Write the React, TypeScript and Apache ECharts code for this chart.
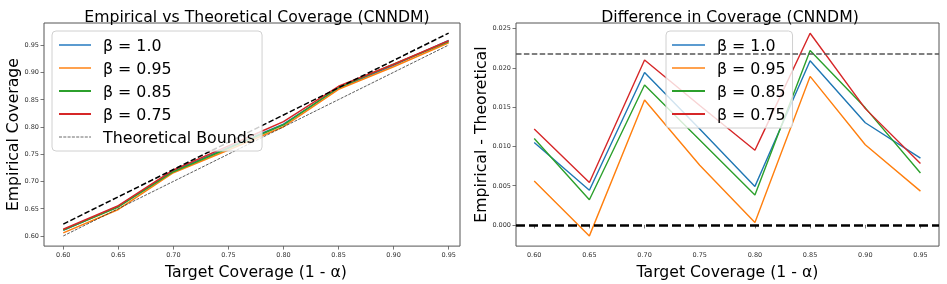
import React, { useEffect, useRef } from "react";
import * as echarts from "echarts";

const targets = [0.6, 0.65, 0.7, 0.75, 0.8, 0.85, 0.9, 0.95];
const betaNames = ["β = 1.0", "β = 0.95", "β = 0.85", "β = 0.75"];
const colors = ["#1f77b4", "#ff7f0e", "#2ca02c", "#d62728"];

const empB100 = [0.6105, 0.6544, 0.7194, 0.7622, 0.8049, 0.8709, 0.913, 0.9585];
const empB095 = [0.6056, 0.6486, 0.7159, 0.7576, 0.8003, 0.8689, 0.9102, 0.9543];
const empB085 = [0.611, 0.6532, 0.7178, 0.7608, 0.8038, 0.8722, 0.9149, 0.9566];
const empB075 = [0.6122, 0.6554, 0.721, 0.7652, 0.8095, 0.8744, 0.9148, 0.9578];

const diffB100 = [0.0105, 0.0044, 0.0194, 0.0122, 0.0049, 0.0209, 0.013, 0.0085];
const diffB095 = [0.0056, -0.0014, 0.0159, 0.0076, 0.0003, 0.0189, 0.0102, 0.0043];
const diffB085 = [0.011, 0.0032, 0.0178, 0.0108, 0.0038, 0.0222, 0.0149, 0.0066];
const diffB075 = [0.0122, 0.0054, 0.021, 0.0152, 0.0095, 0.0244, 0.0148, 0.0078];

const lowerBound = [0.6, 0.65, 0.7, 0.75, 0.8, 0.85, 0.9, 0.95];
const upperBound = [0.6218, 0.6718, 0.7218, 0.7718, 0.8218, 0.8718, 0.9218, 0.9718];
const boundGap = 0.0218;
const zeroLine = 0;

const xTicks = [0.6, 0.65, 0.7, 0.75, 0.8, 0.85, 0.9, 0.95];
const yTicksLeft = [0.6, 0.65, 0.7, 0.75, 0.8, 0.85, 0.9, 0.95];
const yTicksRight = [0, 0.005, 0.01, 0.015, 0.02, 0.025];

const FONT = "DejaVu Sans";

export default function App() {
  const ref = useRef<HTMLDivElement>(null);
  useEffect(() => {
    if (!ref.current) return;
    const chart = echarts.init(ref.current, null, { renderer: "svg" });
    const empAll = [empB100, empB095, empB085, empB075];
    const diffAll = [diffB100, diffB095, diffB085, diffB075];
    const pair = (ys: number[]) => targets.map((t, i) => [t, ys[i]]);

    const axisCommon = {
      type: "value" as const,
      axisLine: { show: false },
      splitLine: { show: false },
      axisTick: { show: true, length: 3.5, lineStyle: { color: "#555", width: 0.8 } },
    };
    const tickLabel = { fontFamily: FONT, fontSize: 6.5, color: "#333" };
    const nameStyle = { fontFamily: FONT, fontSize: 15.7, color: "#000" };

    const leftSeries = empAll.map((ys, i) => ({
      name: betaNames[i],
      type: "line",
      xAxisIndex: 0,
      yAxisIndex: 0,
      data: pair(ys),
      symbol: "none",
      lineStyle: { color: colors[i], width: 1.5 },
      itemStyle: { color: colors[i] },
    }));
    const rightSeries = diffAll.map((ys, i) => ({
      name: betaNames[i],
      type: "line",
      xAxisIndex: 1,
      yAxisIndex: 1,
      data: pair(ys),
      symbol: "none",
      lineStyle: { color: colors[i], width: 1.4 },
      itemStyle: { color: colors[i] },
    }));

    const legendCommon = {
      orient: "vertical" as const,
      itemGap: 5,
      itemHeight: 14,
      backgroundColor: "rgba(255,255,255,0.8)",
      borderColor: "#d0d0d0",
      borderWidth: 1,
      borderRadius: 4,
      itemStyle: { opacity: 0 },
      textStyle: { fontFamily: FONT, fontSize: 15.8, color: "#000", lineHeight: 18, padding: [0, 0, 0, 7] },
    };
    const betaLegendData = betaNames.map((n, i) => ({
      name: n,
      lineStyle: { width: 2, color: i === 0 ? "#5b9bd0" : i === 1 ? "#ffa24f" : colors[i] },
    }));

    chart.setOption({
      animation: false,
      title: [
        {
          text: "Empirical vs Theoretical Coverage (CNNDM)",
          left: 252,
          top: 3,
          textAlign: "center",
          textStyle: { ...nameStyle, fontWeight: "normal" },
        },
        {
          text: "Difference in Coverage (CNNDM)",
          left: 725,
          top: 3,
          textAlign: "center",
          textStyle: { ...nameStyle, fontWeight: "normal" },
        },
      ],
      grid: [
        { left: 44, top: 23, width: 416, height: 224, show: true, borderColor: "#555", borderWidth: 1, backgroundColor: "transparent" },
        { left: 516, top: 23, width: 423, height: 224, show: true, borderColor: "#555", borderWidth: 1, backgroundColor: "transparent" },
      ],
      xAxis: [
        {
          ...axisCommon,
          gridIndex: 0,
          min: 0.5825,
          max: 0.9603,
          axisTick: { ...axisCommon.axisTick, customValues: xTicks },
          axisLabel: { ...tickLabel, customValues: xTicks, margin: 5, formatter: (v: number) => v.toFixed(2) },
          name: "Target Coverage (1 - α)",
          nameLocation: "middle",
          nameGap: 12,
          nameTextStyle: { ...nameStyle, padding: [0, 0, 0, 8] },
        },
        {
          ...axisCommon,
          gridIndex: 1,
          min: 0.5835,
          max: 0.9668,
          axisTick: { ...axisCommon.axisTick, customValues: xTicks },
          axisLabel: { ...tickLabel, customValues: xTicks, margin: 5, formatter: (v: number) => v.toFixed(2) },
          name: "Target Coverage (1 - α)",
          nameLocation: "middle",
          nameGap: 12,
          nameTextStyle: nameStyle,
        },
      ],
      yAxis: [
        {
          ...axisCommon,
          gridIndex: 0,
          min: 0.5814,
          max: 0.9904,
          axisTick: { ...axisCommon.axisTick, customValues: yTicksLeft },
          axisLabel: { ...tickLabel, customValues: yTicksLeft, margin: 5, formatter: (v: number) => v.toFixed(2) },
          name: "Empirical Coverage",
          nameLocation: "middle",
          nameGap: 23,
          nameTextStyle: nameStyle,
        },
        {
          ...axisCommon,
          gridIndex: 1,
          min: -0.0027,
          max: 0.0257,
          axisTick: { ...axisCommon.axisTick, customValues: yTicksRight },
          axisLabel: { ...tickLabel, customValues: yTicksRight, margin: 5, formatter: (v: number) => v.toFixed(3) },
          name: "Empirical - Theoretical",
          nameLocation: "middle",
          nameGap: 27,
          nameTextStyle: nameStyle,
        },
      ],
      legend: [
        {
          ...legendCommon,
          left: 52,
          top: 31,
          itemWidth: 32,
          padding: [5, 7, 5, 6],
          data: [...betaLegendData, { name: "Theoretical Bounds", lineStyle: { width: 0.8, color: "#444", type: [3, 1.3] } }],
        },
        {
          ...legendCommon,
          left: 666,
          top: 31,
          itemWidth: 33,
          padding: [5, 7, 5, 5],
          data: betaLegendData,
        },
      ],
      series: [
        ...leftSeries,
        {
          name: "Theoretical Bounds",
          type: "line",
          xAxisIndex: 0,
          yAxisIndex: 0,
          data: pair(lowerBound),
          symbol: "none",
          lineStyle: { color: "#333", width: 0.8, type: [3, 1.3] },
          itemStyle: { color: "#333" },
        },
        {
          name: "upper",
          type: "line",
          xAxisIndex: 0,
          yAxisIndex: 0,
          data: pair(upperBound),
          symbol: "none",
          lineStyle: { color: "#000", width: 1.5, type: [5.5, 2.4] },
          itemStyle: { color: "#000" },
        },
        ...rightSeries,
        {
          name: "bounds-right",
          type: "line",
          xAxisIndex: 1,
          yAxisIndex: 1,
          data: [],
          symbol: "none",
          markLine: {
            silent: true,
            symbol: "none",
            precision: 5,
            label: { show: false },
            data: [
              { yAxis: boundGap, lineStyle: { color: "#555", width: 1.5, type: [5.5, 2.4] } },
              { yAxis: zeroLine, lineStyle: { color: "#000", width: 2.5, type: [9, 4] } },
            ],
          },
        },
      ],
    });
    return () => chart.dispose();
  }, []);
  return <div ref={ref} style={{ position: "fixed", left: 0, top: 0, width: 947, height: 284 }} />;
}
